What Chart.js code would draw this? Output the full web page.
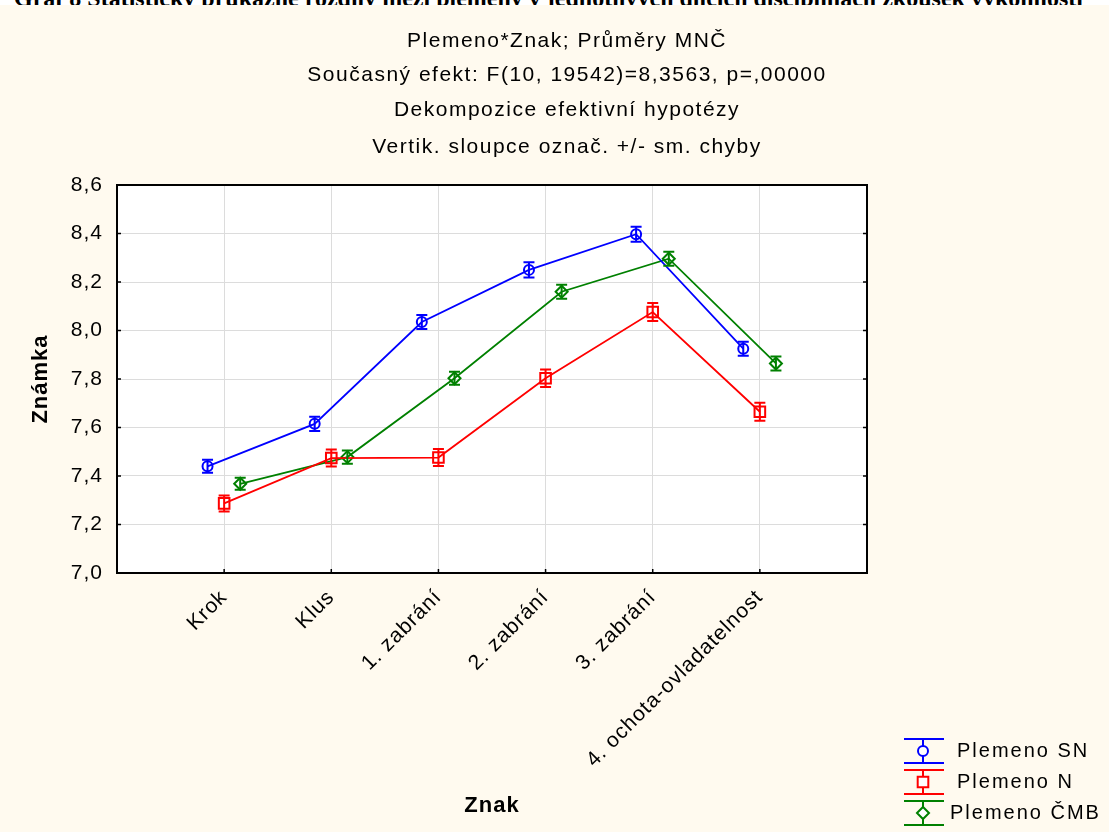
<!DOCTYPE html>
<html>
<head>
<meta charset="utf-8">
<script src="https://cdn.jsdelivr.net/npm/chart.js@4.4.1/dist/chart.umd.min.js"></script>
<style>
  body { margin: 0; background: #fffaef; }
  #wrap { position: relative; width: 1109px; height: 832px; }
  canvas { position: absolute; left: 0; top: 0; }
  #cut { position: absolute; left: 0; top: 0; width: 1109px; height: 5px; background: #fff; overflow: hidden; }
  #cut span { position: absolute; left: 14px; top: -15px; line-height: 24px; font: bold 24px "Liberation Serif"; white-space: nowrap; color: #000; }
</style>
</head>
<body>
<div id="wrap">
  <canvas id="chart" width="1109" height="832"></canvas>
  <div id="cut"><span>Graf 8 Statisticky průkazné rozdíly mezi plemeny v jednotlivých dílčích disciplínách zkoušek výkonnosti</span></div>
</div>
<script>
// categories and means
const categories = ["Krok", "Klus", "1. zabrání", "2. zabrání", "3. zabrání", "4. ochota-ovladatelnost"];
const seriesNames = ["Plemeno SN", "Plemeno N", "Plemeno ČMB"];
const snMeans  = [7.440, 7.615, 8.035, 8.250, 8.397, 7.925];
const nMeans   = [7.287, 7.474, 7.476, 7.803, 8.076, 7.665];
const cmbMeans = [7.368, 7.478, 7.803, 8.160, 8.296, 7.864];
// standard errors (half length of the vertical bars)
const snErr  = [0.027, 0.029, 0.029, 0.031, 0.031, 0.029];
const nErr   = [0.033, 0.035, 0.035, 0.036, 0.037, 0.037];
const cmbErr = [0.025, 0.027, 0.027, 0.029, 0.029, 0.029];
const yTicks = [7.0, 7.2, 7.4, 7.6, 7.8, 8.0, 8.2, 8.4, 8.6];

const titleLines = [
  "Plemeno*Znak; Průměry MNČ",
  "Současný efekt: F(10, 19542)=8,3563, p=,00000",
  "Dekompozice efektivní hypotézy",
  "Vertik. sloupce označ. +/- sm. chyby"
];

const FONT = "'Liberation Sans', Arial, sans-serif";

function points(means, shift) {
  return means.map((v, i) => ({ x: i + 1 + shift, y: v }));
}

const series = [
  { label: seriesNames[0], means: snMeans,  err: snErr,  color: "#0000ff", style: "circle",  r: 5,   shift: -0.155 },
  { label: seriesNames[1], means: nMeans,   err: nErr,   color: "#ff0000", style: "rect",    r: 7.5, shift: 0 },
  { label: seriesNames[2], means: cmbMeans, err: cmbErr, color: "#008000", style: "rectRot", r: 6,   shift: 0.15 }
];

// white plot area, error bars, frame, titles, legend
const decor = {
  id: "decor",
  beforeDraw(chart) {
    const { ctx, chartArea: a } = chart;
    ctx.save();
    ctx.fillStyle = "#ffffff";
    ctx.fillRect(a.left, a.top, a.right - a.left, a.bottom - a.top);
    ctx.restore();
    // Statistica spaces its letters a bit wider
    ctx.letterSpacing = "1px";
  },
  afterDatasetsDraw(chart) {
    const ctx = chart.ctx;
    const ys = chart.scales.y;
    ctx.save();
    series.forEach((s, d) => {
      const meta = chart.getDatasetMeta(d);
      ctx.strokeStyle = s.color;
      ctx.lineWidth = 2;
      meta.data.forEach((pt, i) => {
        const top = ys.getPixelForValue(s.means[i] + s.err[i]);
        const bot = ys.getPixelForValue(s.means[i] - s.err[i]);
        ctx.beginPath();
        ctx.moveTo(pt.x, top); ctx.lineTo(pt.x, bot);
        ctx.moveTo(pt.x - 5.5, top); ctx.lineTo(pt.x + 5.5, top);
        ctx.moveTo(pt.x - 5.5, bot); ctx.lineTo(pt.x + 5.5, bot);
        ctx.stroke();
      });
    });
    ctx.restore();
  },
  afterDraw(chart) {
    const { ctx, chartArea: a } = chart;
    const xs = chart.scales.x, ys = chart.scales.y;
    ctx.save();
    // frame
    ctx.strokeStyle = "#000";
    ctx.lineWidth = 2;
    ctx.strokeRect(a.left, a.top, a.right - a.left, a.bottom - a.top);
    // small inward ticks
    ctx.lineWidth = 1.5;
    ctx.beginPath();
    yTicks.forEach(v => {
      const y = ys.getPixelForValue(v);
      ctx.moveTo(a.left, y); ctx.lineTo(a.left + 4, y);
      ctx.moveTo(a.right, y); ctx.lineTo(a.right - 4, y);
    });
    categories.forEach((c, i) => {
      const x = xs.getPixelForValue(i + 1);
      ctx.moveTo(x, a.bottom); ctx.lineTo(x, a.bottom - 4);
    });
    ctx.stroke();

    // titles
    ctx.fillStyle = "#000";
    ctx.font = "21px " + FONT;
    ctx.textAlign = "center";
    ctx.textBaseline = "middle";
    ctx.letterSpacing = "1.5px";
    const ty = [41, 75, 110, 147];
    titleLines.forEach((t, i) => ctx.fillText(t, 567, ty[i]));

    // legend
    const rows = [751, 782, 813];
    const textX = [957, 957, 950];
    ctx.font = "20px " + FONT;
    ctx.textAlign = "left";
    ctx.letterSpacing = "2px";
    series.forEach((s, i) => {
      const cy = rows[i];
      ctx.strokeStyle = s.color;
      ctx.lineWidth = 2;
      ctx.beginPath();
      ctx.moveTo(904, cy - 12); ctx.lineTo(944, cy - 12);
      ctx.moveTo(904, cy + 12); ctx.lineTo(944, cy + 12);
      ctx.moveTo(923, cy - 12); ctx.lineTo(923, cy + 12);
      ctx.stroke();
      ctx.fillStyle = "#ffffff";
      Chart.helpers.drawPoint(ctx, { pointStyle: s.style, radius: s.r, rotation: 0, borderWidth: 2 }, 923, cy);
      ctx.fillStyle = "#000";
      ctx.fillText(s.label, textX[i], cy);
    });
    ctx.restore();
  }
};

new Chart(document.getElementById("chart"), {
  type: "line",
  data: {
    datasets: series.map(s => ({
      label: s.label,
      data: points(s.means, s.shift),
      borderColor: s.color,
      borderWidth: 1.8,
      pointStyle: s.style,
      pointRadius: s.r,
      pointBorderWidth: 2,
      pointBorderColor: s.color,
      pointBackgroundColor: "rgba(0,0,0,0)",
      tension: 0
    }))
  },
  options: {
    responsive: false,
    animation: false,
    layout: { padding: { top: 185, right: 242, left: 0, bottom: 0 } },
    plugins: { legend: { display: false }, tooltip: { enabled: false } },
    scales: {
      x: {
        type: "linear",
        min: 0,
        max: 7,
        afterBuildTicks: scale => { scale.ticks = categories.map((c, i) => ({ value: i + 1 })); },
        afterFit: scale => { scale.height = 832 - 573; },
        ticks: {
          callback: v => categories[v - 1],
          minRotation: 45,
          maxRotation: 45,
          autoSkip: false,
          padding: 12,
          color: "#000",
          font: { family: FONT, size: 21 }
        },
        grid: { color: "#dcdcdc", lineWidth: 1, drawTicks: false },
        border: { display: false },
        title: { display: true, text: "Znak", color: "#000", font: { family: FONT, size: 22, weight: "bold" }, padding: { top: 0, bottom: 13 } }
      },
      y: {
        min: 7,
        max: 8.6,
        afterBuildTicks: scale => { scale.ticks = yTicks.map(v => ({ value: v })); },
        afterFit: scale => { scale.width = 117; },
        ticks: {
          callback: v => v.toFixed(1).replace(".", ","),
          padding: 14,
          color: "#000",
          font: { family: FONT, size: 21 }
        },
        grid: { color: "#dcdcdc", lineWidth: 1, drawTicks: false },
        border: { display: false },
        title: { display: true, text: "Známka", color: "#000", font: { family: FONT, size: 22, weight: "bold" }, padding: { top: 28, bottom: 0 } }
      }
    }
  },
  plugins: [decor]
});
</script>
</body>
</html>
